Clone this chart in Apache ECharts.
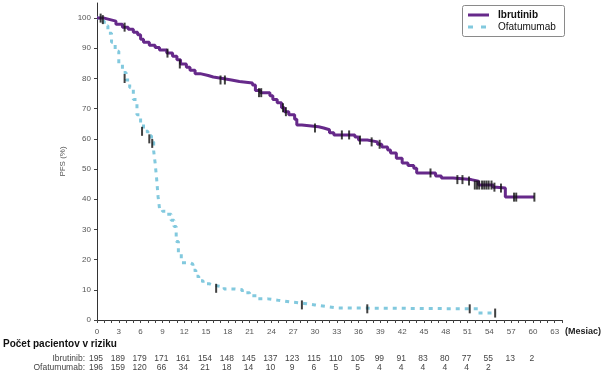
<!DOCTYPE html>
<html>
<head>
<meta charset="utf-8">
<script src="https://cdn.jsdelivr.net/npm/echarts@6/dist/echarts.min.js"></script>
<style>html,body{margin:0;padding:0;background:#fff}#c{width:606px;height:382px}</style>
</head>
<body>
<div id="c"></div>
<script>
// ---- data ----
const seriesNames = ['Ibrutinib', 'Ofatumumab'];
const ibrutinibMonths = [0,1.0,1.8,2.6,3.5,4.3,5.0,5.6,6.0,6.4,7.2,8.0,8.6,9.6,10.4,11.0,11.5,12.3,12.8,13.5,14.2,15.3,16.0,17.3,18.5,19.6,21.4,21.8,22.5,23.8,24.2,24.8,25.4,25.8,26.4,27.2,27.5,28.2,30.5,31.2,32.0,32.6,35.5,36.0,37.2,38.6,39.2,40.0,40.4,41.2,42.0,42.8,43.6,44.0,46.6,47.4,49.0,51.5,52.5,54.5,55.0,56.2,60.2];
const ibrutinibPfs =    [100,99.5,99,98,97,96.3,95.3,94.5,93,92,91,90.3,89.4,88.4,87.4,86.2,84.8,83.7,82.7,81.6,81,80.5,80,79.5,79,78.5,77.8,76,75.3,74.3,73,72,70.3,69,68,66.5,64.6,64,63.6,63,62,61.3,60.6,59.6,59,58.2,57.3,56.3,55.3,53.6,52,51.2,50.3,48.7,47.7,47,46.5,46,44.7,44,43.7,40.7,40.7];
const ibrutinibCensorMonths = [0.5,0.8,3.8,9.7,11.4,17.0,17.6,22.3,22.6,25.6,26.0,30.0,33.7,34.7,36.2,37.8,38.9,45.9,49.6,50.3,51.2,52.0,52.3,52.6,53.0,53.3,53.6,53.9,54.3,54.7,55.6,57.4,57.7,60.2];
const ibrutinibCensorPfs =    [100,99.5,97,88.4,84.8,79.5,79.5,75.3,75.3,70.3,69,63.6,61.3,61.3,59.6,59,58.2,48.7,46.5,46.5,46,44.7,44.7,44.7,44.7,44.7,44.7,44.7,44.7,44,43.7,40.7,40.7,40.7];
const ofatumumabMonths = [0,0.5,1.0,1.5,2.0,2.5,3.0,3.5,4.0,4.5,5.0,5.5,6.0,6.4,7.0,7.5,7.8,8.0,8.2,8.4,8.6,9.0,9.6,10.2,10.6,10.9,11.2,11.6,12.8,13.2,13.6,14.0,14.6,15.5,16.0,17.5,19.0,20.0,21.0,22.0,23.5,25.0,26.5,28.5,30.0,31.5,33.0,52.5,55.0];
const ofatumumabPfs =    [100,99,97.5,95,92,89,85,82,79.5,77,73,68,65,62.5,61,59,56,52,47,41,37,36,35,33,31,26,22,19,18.5,16.5,14.5,13,12,11.5,11,10.3,10,9,8,7,6.5,6,5.5,5,4.5,4,3.7,2.3,2.3];
const ofatumumabCensorMonths = [3.8,6.2,7.2,7.6,16.4,28.2,37.2,51.3,54.8];
const ofatumumabCensorPfs =    [80,62.5,60,58.5,10.5,5,3.7,3.7,2.3];
const xTickLabels = [0,3,6,9,12,15,18,21,24,27,30,33,36,39,42,45,48,51,54,57,60,63];
const yTickLabels = [0,10,20,30,40,50,60,70,80,90,100];
const riskMonthsIbr = [0,3,6,9,12,15,18,21,24,27,30,33,36,39,42,45,48,51,54,57,60];
const riskIbrutinib = [195,189,179,171,161,154,148,145,137,123,115,110,105,99,91,83,80,77,55,13,2];
const riskMonthsOfa = [0,3,6,9,12,15,18,21,24,27,30,33,36,39,42,45,48,51,54];
const riskOfatumumab = [196,159,120,66,34,21,18,14,10,9,6,5,5,4,4,4,4,4,2];
const riskTitle = 'Počet pacientov v riziku';
const riskRowLabels = ['Ibrutinib:', 'Ofatumumab:'];
const xUnit = '(Mesiac)';
const yName = 'PFS (%)';

// ---- chart ----
const PURPLE = '#66298a';
const BLUE = '#82c9de';
const FONT = '"Liberation Sans", Arial, sans-serif';
const zip = (a, b) => a.map((v, i) => [v, b[i]]);
const chart = echarts.init(document.getElementById('c'), null, {renderer: 'canvas'});
const xMonthTicks = [];
for (let m = 0; m <= 64; m++) xMonthTicks.push(m);

chart.setOption({
  animation: false,
  textStyle: {fontFamily: FONT},
  grid: {left: 97, right: 44, top: 3, bottom: 62},
  xAxis: {
    type: 'value', min: 0, max: 64, interval: 1,
    axisLine: {lineStyle: {color: '#333', width: 1}},
    axisTick: {show: true, length: 3, lineStyle: {color: '#444'}, customValues: xMonthTicks},
    axisLabel: {customValues: xTickLabels, fontSize: 8, color: '#555', margin: 8, fontFamily: FONT},
    splitLine: {show: false}
  },
  yAxis: {
    type: 'value', min: 0, max: 105, interval: 10,
    name: yName, nameLocation: 'middle', nameGap: 30, nameRotate: 90,
    nameTextStyle: {fontSize: 8, color: '#555', fontFamily: FONT},
    axisLine: {show: true, lineStyle: {color: '#333', width: 1}},
    axisTick: {show: true, length: 3, lineStyle: {color: '#444'}, customValues: yTickLabels},
    axisLabel: {customValues: yTickLabels, fontSize: 8, color: '#555', margin: 6, fontFamily: FONT},
    splitLine: {show: false}
  },
  series: [
    {name: seriesNames[0], type: 'line', step: 'end', symbol: 'none', z: 3,
     data: zip(ibrutinibMonths, ibrutinibPfs),
     lineStyle: {color: PURPLE, width: 3}, itemStyle: {color: PURPLE}},
    {name: seriesNames[1], type: 'line', step: 'end', symbol: 'none', z: 2,
     data: zip(ofatumumabMonths, ofatumumabPfs),
     lineStyle: {color: BLUE, width: 3, type: [4, 5]}, itemStyle: {color: BLUE}},
    {name: 'censorIbr', type: 'scatter', symbol: 'rect', symbolSize: [2, 9], z: 5,
     data: zip(ibrutinibCensorMonths, ibrutinibCensorPfs), itemStyle: {color: '#111'}},
    {name: 'censorOfa', type: 'scatter', symbol: 'rect', symbolSize: [2, 9], z: 5,
     data: zip(ofatumumabCensorMonths, ofatumumabCensorPfs), itemStyle: {color: '#111'}}
  ]
});

// ---- legend, risk table & unit label ----
const px = m => chart.convertToPixel({xAxisIndex: 0}, m);
const g = [];
// legend box
g.push({type: 'rect', shape: {x: 462.5, y: 5.5, width: 102, height: 31, r: 2},
  style: {fill: '#fff', stroke: '#8a8a8a', lineWidth: 1}, z: 10});
g.push({type: 'line', shape: {x1: 468, y1: 15, x2: 489, y2: 15}, style: {stroke: PURPLE, lineWidth: 3}, z: 11});
g.push({type: 'line', shape: {x1: 468, y1: 27, x2: 489, y2: 27}, style: {stroke: BLUE, lineWidth: 3, lineDash: [5, 8]}, z: 11});
g.push({type: 'text', x: 498, y: 15, style: {text: seriesNames[0], font: 'bold 10px ' + FONT, fill: '#111', verticalAlign: 'middle'}, z: 11});
g.push({type: 'text', x: 498, y: 27, style: {text: seriesNames[1], font: '10px ' + FONT, fill: '#111', verticalAlign: 'middle'}, z: 11});
// unit and table
g.push({type: 'text', x: 565, y: 332, style: {text: xUnit, font: 'bold 9px ' + FONT, fill: '#222', verticalAlign: 'middle'}});
g.push({type: 'text', x: 3, y: 344, style: {text: riskTitle, font: 'bold 10px ' + FONT, fill: '#111', verticalAlign: 'middle'}});
g.push({type: 'text', x: 85, y: 359, style: {text: riskRowLabels[0], font: '8.5px ' + FONT, fill: '#444', align: 'right', verticalAlign: 'middle'}});
g.push({type: 'text', x: 85, y: 368, style: {text: riskRowLabels[1], font: '8.5px ' + FONT, fill: '#444', align: 'right', verticalAlign: 'middle'}});
riskIbrutinib.forEach((v, i) => g.push({type: 'text', x: px(riskMonthsIbr[i]) - 1, y: 359,
  style: {text: String(v), font: '8.5px ' + FONT, fill: '#444', align: 'center', verticalAlign: 'middle'}}));
riskOfatumumab.forEach((v, i) => g.push({type: 'text', x: px(riskMonthsOfa[i]) - 1, y: 368,
  style: {text: String(v), font: '8.5px ' + FONT, fill: '#444', align: 'center', verticalAlign: 'middle'}}));
chart.setOption({graphic: g});
</script>
</body>
</html>
